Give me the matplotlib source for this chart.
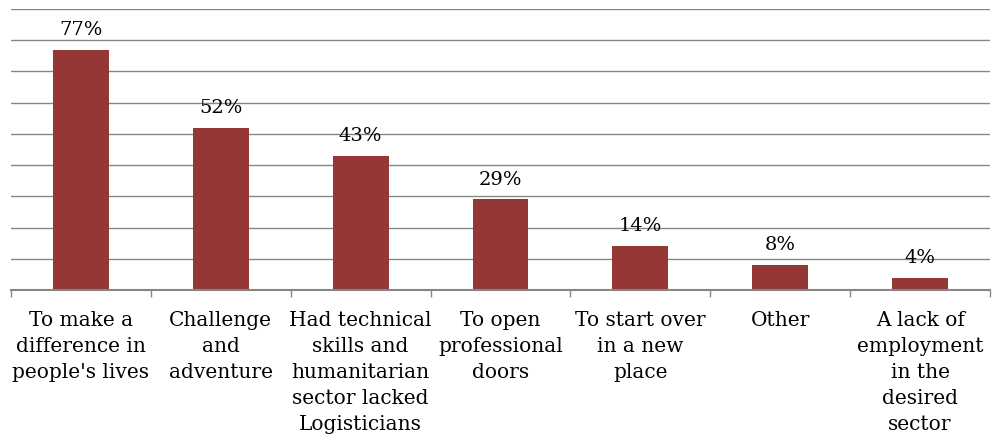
import matplotlib
matplotlib.use("Agg")
import matplotlib.pyplot as plt
import numpy as np

categories = [
    "To make a\ndifference in\npeople's lives",
    "Challenge\nand\nadventure",
    "Had technical\nskills and\nhumanitarian\nsector lacked\nLogisticians",
    "To open\nprofessional\ndoors",
    "To start over\nin a new\nplace",
    "Other",
    "A lack of\nemployment\nin the\ndesired\nsector",
]
percent = [77, 52, 43, 29, 14, 8, 4]

bar_color = "#953735"
grid_color = "#868686"

plt.rcParams["font.family"] = ["DejaVu Serif"]

fig = plt.figure(figsize=(9.93, 4.35), dpi=100)
ax = fig.add_axes([11 / 993, 144 / 435, 979 / 993, 281 / 435])

x = np.arange(len(categories))
bars = ax.bar(x, percent, width=0.4, color=bar_color, zorder=3)

for xi, v in zip(x, percent):
    ax.annotate(f"{v}%", (xi, v), xytext=(0, 8.5), textcoords="offset points",
                ha="center", va="bottom", fontsize=14, color="black")

ax.set_xlim(-0.5, len(categories) - 0.5)
ax.set_ylim(0, 90)
ax.set_yticks(np.arange(0, 91, 10))
ax.yaxis.grid(True, color=grid_color, linewidth=1)
ax.tick_params(axis="y", left=False, labelleft=False)

# category boundaries get the small tick marks, labels sit centred between them
ax.set_xticks(np.arange(-0.5, len(categories), 1.0))
ax.set_xticklabels([])
ax.set_xticks(x, minor=True)
ax.set_xticklabels(categories, minor=True, fontsize=14.5, linespacing=1.47, va="top")
ax.tick_params(axis="x", which="major", length=5, color=grid_color, width=1)
ax.tick_params(axis="x", which="minor", length=0, pad=14.5)

for side in ["top", "right", "left"]:
    ax.spines[side].set_visible(False)
ax.spines["bottom"].set_color(grid_color)
ax.spines["bottom"].set_linewidth(1.5)
ax.spines["bottom"].set_zorder(4)

fig.savefig("out.png", dpi=100)
